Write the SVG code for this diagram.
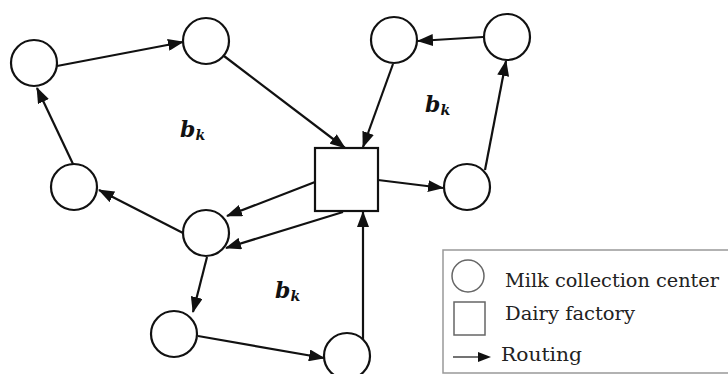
<svg xmlns="http://www.w3.org/2000/svg" width="728" height="374" viewBox="0 0 728 374">
  <style>
    .center { fill: #fff; stroke: #111; stroke-width: 2.2; }
    .factory { fill: #fff; stroke: #111; stroke-width: 2.2; }
    .route { stroke: #111; stroke-width: 2.2; fill: none; }
    .legend-box { fill: #fff; stroke: #999; stroke-width: 1.5; }
    .legend-icon { fill: #fff; stroke: #666; stroke-width: 1.5; }
    text { font-family: "DejaVu Serif", serif; }
  </style>
  <defs>
    <marker id="arrow" markerUnits="userSpaceOnUse" markerWidth="16" markerHeight="12" viewBox="0 0 16 12" refX="15" refY="6" orient="auto">
      <path d="M0,0 L16,6 L0,12 z" fill="#111"/>
    </marker>
  </defs>
  <rect width="728" height="374" fill="#fff"/>

  <!-- routes -->
  <g id="connectors">
    <line class="route" marker-end="url(#arrow)" x1="57" y1="66" x2="183" y2="42"/>
    <line class="route" marker-end="url(#arrow)" x1="224" y1="56" x2="345" y2="148"/>
    <line class="route" marker-end="url(#arrow)" x1="393" y1="64" x2="363" y2="147"/>
    <line class="route" marker-end="url(#arrow)" x1="483" y1="37" x2="418" y2="41"/>
    <line class="route" marker-end="url(#arrow)" x1="485" y1="170" x2="506" y2="61"/>
    <line class="route" marker-end="url(#arrow)" x1="378" y1="180" x2="443" y2="188"/>
    <line class="route" marker-end="url(#arrow)" x1="315" y1="182" x2="227" y2="216"/>
    <line class="route" marker-end="url(#arrow)" x1="343" y1="212" x2="226" y2="248"/>
    <line class="route" marker-end="url(#arrow)" x1="183" y1="233" x2="99" y2="190"/>
    <line class="route" marker-end="url(#arrow)" x1="73" y1="164" x2="37" y2="88"/>
    <line class="route" marker-end="url(#arrow)" x1="207" y1="257" x2="193" y2="312"/>
    <line class="route" marker-end="url(#arrow)" x1="198" y1="336" x2="324" y2="358"/>
    <line class="route" marker-end="url(#arrow)" x1="363" y1="339" x2="363" y2="212"/>
  </g>

  <!-- milk collection centers -->
  <g id="mcc-1"><circle class="center" cx="34" cy="63" r="23"/></g>
  <g id="mcc-2"><circle class="center" cx="206" cy="41" r="23"/></g>
  <g id="mcc-3"><circle class="center" cx="74" cy="187" r="23"/></g>
  <g id="mcc-4"><circle class="center" cx="206" cy="233" r="23"/></g>
  <g id="mcc-5"><circle class="center" cx="174" cy="334" r="23"/></g>
  <g id="mcc-6"><circle class="center" cx="347" cy="356" r="23"/></g>
  <g id="mcc-7"><circle class="center" cx="394" cy="40" r="23"/></g>
  <g id="mcc-8"><circle class="center" cx="507" cy="37" r="23"/></g>
  <g id="mcc-9"><circle class="center" cx="467" cy="187" r="23"/></g>

  <!-- dairy factory -->
  <g id="factory"><rect class="factory" x="315" y="148" width="63" height="63"/></g>

  <!-- route labels -->
  <g id="labels" font-size="22" font-weight="bold" font-style="italic" fill="#111">
    <g id="label-1"><text x="180" y="137">b<tspan font-size="14" dy="3">k</tspan></text></g>
    <g id="label-2"><text x="425" y="112">b<tspan font-size="14" dy="3">k</tspan></text></g>
    <g id="label-3"><text x="275" y="298">b<tspan font-size="14" dy="3">k</tspan></text></g>
  </g>

  <!-- legend -->
  <g id="legend">
    <rect class="legend-box" x="443" y="250" width="300" height="123"/>
    <circle class="legend-icon" cx="468" cy="276" r="16"/>
    <rect class="legend-icon" x="454" y="302" width="31" height="33"/>
    <line x1="453" y1="357" x2="478" y2="357" stroke="#444" stroke-width="1.5"/>
    <path d="M478,352 L491,357 L478,362 z" fill="#111"/>
    <g font-size="19" fill="#222">
      <text x="505" y="287" textLength="214" lengthAdjust="spacingAndGlyphs">Milk collection center</text>
      <text x="505" y="320" textLength="130" lengthAdjust="spacingAndGlyphs">Dairy factory</text>
      <text x="501" y="361" textLength="81" lengthAdjust="spacingAndGlyphs">Routing</text>
    </g>
  </g>
</svg>
